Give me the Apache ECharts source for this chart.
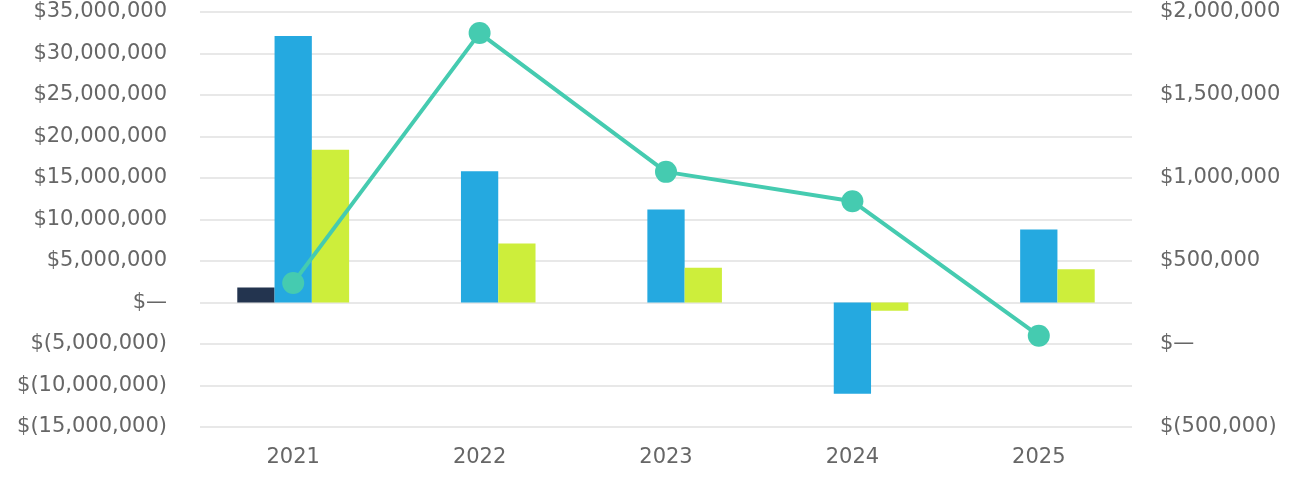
<!DOCTYPE html>
<html>
<head>
<meta charset="utf-8">
<script src="https://cdn.jsdelivr.net/npm/echarts@6/dist/echarts.min.js"></script>
<style>
html,body{margin:0;padding:0;background:#fff;}
#chart{width:1304px;height:480px;}
</style>
</head>
<body>
<div id="chart"></div>
<script>
const categories = ['2021', '2022', '2023', '2024', '2025'];
const seriesA = [1800000, null, null, null, null];
const seriesB = [32100000, 15800000, 11200000, -11000000, 8800000];
const seriesC = [18400000, 7100000, 4200000, -1000000, 4000000];
const lineValues = [368000, 1873000, 1037000, 860000, 50000];

function money(v) {
  if (v === 0) return '$\u2014';
  const s = Math.abs(v).toLocaleString('en-US');
  return v < 0 ? '$(' + s + ')' : '$' + s;
}

const font = 'DejaVu Sans';
const textColor = '#666666';
const chart = echarts.init(document.getElementById('chart'));
chart.setOption({
  animation: false,
  backgroundColor: '#ffffff',
  grid: { left: 200, right: 172, top: 12, bottom: 53, containLabel: false },
  xAxis: {
    type: 'category',
    data: categories,
    axisLine: { show: false },
    axisTick: { show: false },
    axisLabel: { color: textColor, fontFamily: font, fontSize: 21, margin: 20 }
  },
  yAxis: [
    {
      type: 'value', min: -15000000, max: 35000000, interval: 5000000,
      axisLine: { show: false }, axisTick: { show: false },
      splitLine: { lineStyle: { color: '#e8e8e8', width: 2 } },
      axisLabel: { color: textColor, fontFamily: font, fontSize: 21, margin: 33, formatter: money }
    },
    {
      type: 'value', min: -500000, max: 2000000, interval: 500000,
      axisLine: { show: false }, axisTick: { show: false },
      splitLine: { show: false },
      axisLabel: { color: textColor, fontFamily: font, fontSize: 21, margin: 28, formatter: money }
    }
  ],
  series: [
    { type: 'bar', data: seriesA, itemStyle: { color: '#23344f' }, barGap: '0%', barCategoryGap: '40%' },
    { type: 'bar', data: seriesB, itemStyle: { color: '#25a9e0' }, barGap: '0%', barCategoryGap: '40%' },
    { type: 'bar', data: seriesC, itemStyle: { color: '#cdee3b' }, barGap: '0%', barCategoryGap: '40%' },
    {
      type: 'line', yAxisIndex: 1, data: lineValues,
      symbol: 'circle', symbolSize: 22,
      lineStyle: { color: '#45cbb0', width: 4 },
      itemStyle: { color: '#45cbb0' }
    }
  ]
});
</script>
</body>
</html>
